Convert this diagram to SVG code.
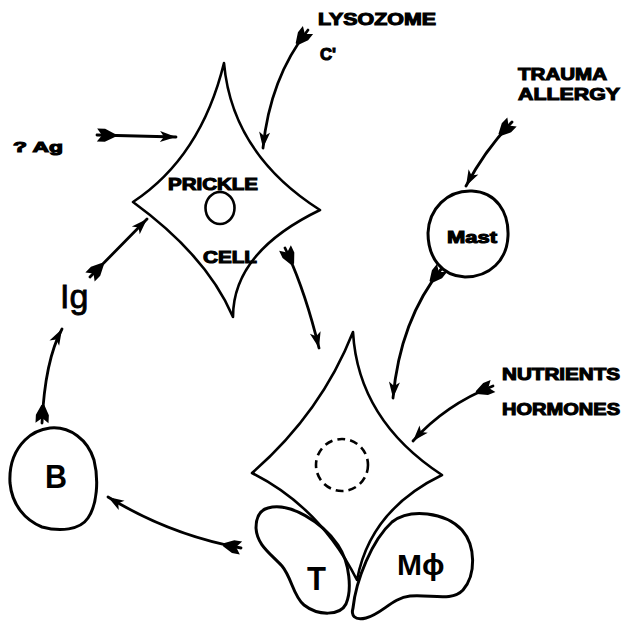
<svg xmlns="http://www.w3.org/2000/svg" width="625" height="622" viewBox="0 0 625 622">
<style>
  .cell { fill: none; stroke: #000; stroke-width: 2.6; stroke-linejoin: round; stroke-linecap: round; }
  .blob { fill: #fff; stroke: #000; stroke-width: 3; stroke-linejoin: round; }
  .conn { fill: none; stroke: #000; stroke-width: 2.8; stroke-linecap: round; }
  .lbl { font-family: "Liberation Sans", Arial, sans-serif; font-weight: bold; fill: #000; stroke: #000; stroke-width: 1.1; }
  .big { font-family: "Liberation Sans", Arial, sans-serif; fill: #000; }
</style>
<defs>
  <marker id="fletch" markerUnits="userSpaceOnUse" markerWidth="20" markerHeight="14" refX="0" refY="0" orient="auto" overflow="visible">
    <path d="M0,-6.5 L5,0 L0,6.5 L8,6.5 L18,1.5 L18,-1.5 L8,-6.5 Z" fill="#000"/>
  </marker>
  <marker id="head" markerUnits="userSpaceOnUse" markerWidth="20" markerHeight="14" refX="0" refY="0" orient="auto" overflow="visible">
    <path d="M-16,-5.5 L0,0 L-16,5.5 L-12,0 Z" fill="#000"/>
  </marker>
</defs>
<rect width="625" height="622" fill="#fff"/>

<g id="connectors">
  <path class="conn" d="M97,135 L176,137" marker-start="url(#fletch)" marker-end="url(#head)"/>
  <path class="conn" d="M308,30 Q270,78 263,148" marker-start="url(#fletch)" marker-end="url(#head)"/>
  <path class="conn" d="M512,122 Q485,150 466,186" marker-start="url(#fletch)" marker-end="url(#head)"/>
  <path class="conn" d="M442,268 Q400,320 393,398" marker-start="url(#fletch)" marker-end="url(#head)"/>
  <path class="conn" d="M493,386 Q445,405 413,441" marker-start="url(#fletch)" marker-end="url(#head)"/>
  <path class="conn" d="M285,248 Q305,290 319,348" marker-start="url(#fletch)" marker-end="url(#head)"/>
  <path class="conn" d="M90,277 L147,219" marker-start="url(#fletch)" marker-end="url(#head)"/>
  <path class="conn" d="M42,423 Q45,360 62,329" marker-start="url(#fletch)" marker-end="url(#head)"/>
  <path class="conn" d="M241,548 Q170,535 108,497" marker-start="url(#fletch)" marker-end="url(#head)"/>
</g>

<g id="prickle-cell">
  <path class="cell" d="M224,63 Q232,154 320,210 Q233,252 233,317 Q207,256 133,202 Q201,157 224,63 Z"/>
  <ellipse cx="220" cy="208" rx="14.5" ry="16" fill="none" stroke="#000" stroke-width="2.6"/>
  <text class="lbl" x="168" y="190" font-size="17" textLength="90" lengthAdjust="spacingAndGlyphs">PRICKLE</text>
  <text class="lbl" x="203" y="263" font-size="17" textLength="54" lengthAdjust="spacingAndGlyphs">CELL</text>
</g>

<g id="lysozome">
  <text class="lbl" x="318" y="25" font-size="17" textLength="118" lengthAdjust="spacingAndGlyphs">LYSOZOME</text>
  <text class="lbl" x="320" y="60" font-size="17" textLength="16" lengthAdjust="spacingAndGlyphs">C'</text>
</g>

<g id="ag">
  <text class="lbl" x="13" y="152" font-size="15" textLength="50" lengthAdjust="spacingAndGlyphs">? Ag</text>
</g>

<g id="trauma">
  <text class="lbl" x="518" y="80" font-size="17" textLength="89" lengthAdjust="spacingAndGlyphs">TRAUMA</text>
  <text class="lbl" x="518" y="100" font-size="17" textLength="102" lengthAdjust="spacingAndGlyphs">ALLERGY</text>
</g>

<g id="mast">
  <path class="blob" d="M472,191 C496,192 509,212 508,236 C507,260 490,277 465,277 C442,276 428,258 428,233 C429,209 447,190 472,191 Z"/>
  <text class="lbl" x="447" y="243" font-size="17" textLength="50" lengthAdjust="spacingAndGlyphs">Mast</text>
</g>

<g id="nutrients">
  <text class="lbl" x="502" y="380" font-size="17" textLength="118" lengthAdjust="spacingAndGlyphs">NUTRIENTS</text>
  <text class="lbl" x="502" y="415" font-size="17" textLength="118" lengthAdjust="spacingAndGlyphs">HORMONES</text>
</g>

<g id="ig">
  <text class="big" x="60" y="308" font-size="34" stroke="#000" stroke-width="0.8">Ig</text>
</g>

<g id="b-cell">
  <path class="blob" d="M50,428 C70,426 88,440 94,460 C99,480 97,505 88,518 C80,530 60,532 42,527 C25,520 12,505 10,483 C9,465 15,450 25,440 C33,432 42,429 50,428 Z"/>
  <text class="big" x="45" y="488" font-size="34" font-weight="bold" textLength="22" lengthAdjust="spacingAndGlyphs">B</text>
</g>

<g id="t-cell">
  <path class="blob" d="M268,508 C290,502 322,522 338,545 C350,563 352,590 346,604 C340,616 318,616 304,605 C293,596 292,578 282,566 C270,553 257,545 256,528 C256,516 260,510 268,508 Z"/>
  <text class="big" x="307" y="590" font-size="34" font-weight="bold" textLength="19" lengthAdjust="spacingAndGlyphs">T</text>
</g>

<g id="macrophage">
  <path class="blob" d="M353,608 C356,580 372,540 392,522 C410,508 445,512 462,530 C476,546 476,575 463,590 C452,602 430,594 410,596 C392,598 382,614 366,618 C354,621 351,615 353,608 Z"/>
  <text class="big" x="397" y="575" font-size="30" font-weight="bold">Mϕ</text>
</g>

<g id="target-cell">
  <path class="cell" d="M353,332 Q358,420 442,475 Q370,510 357,580 Q320,507 252,473 Q321,413 353,332 Z"/>
  <circle cx="342" cy="465" r="26" fill="none" stroke="#000" stroke-width="2.6" stroke-dasharray="8 5"/>
</g>
</svg>
